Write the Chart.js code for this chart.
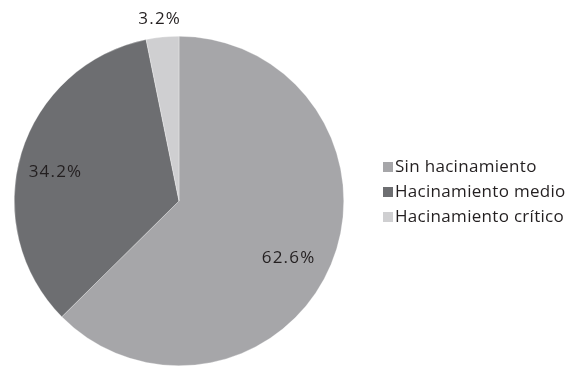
<!DOCTYPE html>
<html>
<head>
<meta charset="utf-8">
<script src="https://cdn.jsdelivr.net/npm/chart.js@4/dist/chart.umd.min.js"></script>
<style>
  html, body { margin: 0; padding: 0; background: #fff; }
  #wrap { width: 570px; height: 366px; position: relative; }
</style>
</head>
<body>
<div id="wrap"><canvas id="pie"></canvas></div>
<script>
  var categories = ['Sin hacinamiento', 'Hacinamiento medio', 'Hacinamiento crítico'];
  var shares = [62.6, 34.2, 3.2];
  var sliceColors = ['#a6a6a9', '#6d6e71', '#cfcfd1'];

  // label placement: fraction of radius and angle nudge (deg) per slice
  var labelRadius = [0.75, 0.77, 1.11];
  var labelNudge = [4.8, -3.7, -0.3];

  var textFont = '"Open Sans", "DejaVu Sans", sans-serif';

  var pieLabels = {
    id: 'pieLabels',
    afterDatasetsDraw: function (chart) {
      var ctx = chart.ctx;
      var arcs = chart.getDatasetMeta(0).data;
      ctx.save();
      ctx.font = '17px ' + textFont;
      ctx.letterSpacing = '1.2px';
      ctx.fillStyle = '#231f20';
      ctx.textAlign = 'center';
      ctx.textBaseline = 'middle';
      arcs.forEach(function (arc, i) {
        var p = arc.getProps(['x', 'y', 'startAngle', 'endAngle', 'outerRadius'], true);
        var a = (p.startAngle + p.endAngle) / 2 + labelNudge[i] * Math.PI / 180;
        var r = p.outerRadius * labelRadius[i];
        ctx.fillText(shares[i].toFixed(1) + '%', p.x + Math.cos(a) * r, p.y + Math.sin(a) * r);
      });
      ctx.restore();
    }
  };

  var sideLegend = {
    id: 'sideLegend',
    afterDraw: function (chart) {
      var ctx = chart.ctx;
      ctx.save();
      ctx.font = '17px ' + textFont;
      ctx.letterSpacing = '0.3px';
      ctx.textBaseline = 'middle';
      chart.data.labels.forEach(function (lab, i) {
        var y = 167 + i * 25;
        ctx.fillStyle = sliceColors[i];
        ctx.fillRect(383, y - 5, 10, 10);
        ctx.fillStyle = '#231f20';
        ctx.fillText(lab, 395, y);
      });
      ctx.restore();
    }
  };

  new Chart(document.getElementById('pie'), {
    type: 'pie',
    data: {
      labels: categories,
      datasets: [{
        data: shares,
        backgroundColor: sliceColors,
        borderColor: 'rgba(255,255,255,0.6)',
        borderWidth: 0.5
      }]
    },
    options: {
      responsive: true,
      maintainAspectRatio: false,
      animation: false,
      layout: { padding: { left: 12, right: 224, top: 36, bottom: 0 } },
      plugins: {
        legend: { display: false },
        tooltip: { enabled: false }
      }
    },
    plugins: [pieLabels, sideLegend]
  });
</script>
</body>
</html>
